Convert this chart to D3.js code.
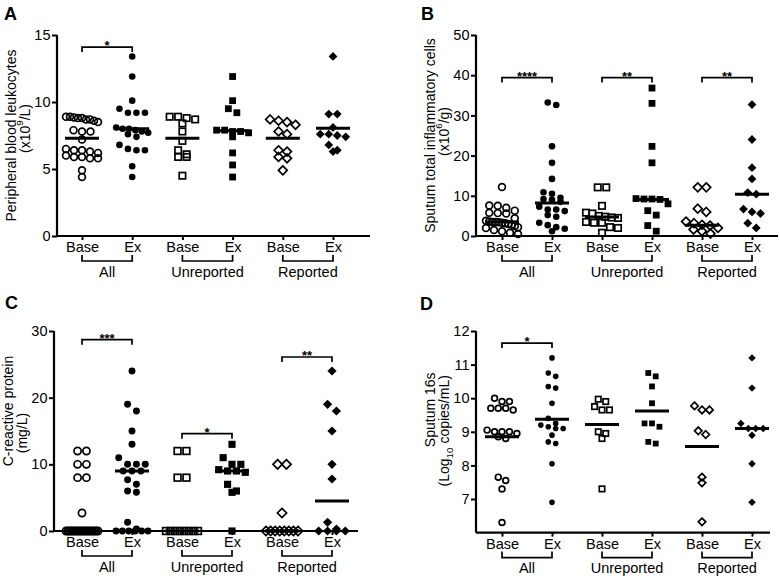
<!DOCTYPE html>
<html><head><meta charset="utf-8">
<script src="https://cdn.jsdelivr.net/npm/d3@7"></script>
<style>body{margin:0;background:#fff}svg{display:block}</style>
</head><body><svg id="c" width="780" height="576"></svg>
<script>
// ---------- data ----------
const categories = ["Base","Ex","Base","Ex","Base","Ex"];
const groups = ["All","Unreported","Reported"];

const leukocytes = [
  [8.9,8.9,8.85,8.8,8.8,8.7,8.7,8.6,8.5,7.9,7.8,7.8,7.2,6.5,6.4,6.4,6.3,6.2,6.0,5.9,5.9,5.8,5.8,4.9,4.4],
  [13.4,11.9,10.1,9.5,9.2,9.2,9.2,8.1,8.0,8.0,7.9,7.8,7.7,7.6,7.4,6.8,6.5,6.4,6.4,5.2,4.4],
  [8.9,8.8,8.7,8.9,8.4,7.8,7.1,6.4,6.1,5.9,5.9,4.5],
  [11.9,10.1,9.5,9.2,7.9,7.9,7.8,7.8,7.7,7.4,6.2,5.3,4.4],
  [8.7,8.6,8.5,8.3,7.8,7.6,6.4,6.3,5.9,5.8,4.9],
  [13.4,9.1,9.1,8.1,7.6,7.6,7.5,7.4,6.8,6.4,6.3]
];
const leukocytesMedians = [7.3,8.0,7.3,7.85,7.3,8.05];
const leukocytesSig = [[0,1,14.1,"*"]];
const leukocytesTicks = [0,5,10,15];

const sputumCells = [
  [12.2,7.6,7.5,7.0,6.3,5.8,5.7,5.6,4.4,3.8,3.6,3.5,3.5,3.4,3.3,3.2,3.0,2.8,2.5,2.2,2.0,1.5,1.2,0.8,0.5],
  [33.2,32.6,22.3,18.2,14.2,10.9,10.5,9.5,9.2,9.0,8.5,7.3,6.6,6.6,6.2,5.2,4.8,3.3,2.7,2.2,1.8,1.2],
  [12.1,12.1,7.5,5.8,5.6,5.0,4.8,4.6,4.5,3.5,3.3,3.3,2.2,2.0,0.8],
  [36.8,33.0,22.3,18.2,9.3,9.2,9.2,9.1,8.0,6.3,5.2,2.6,1.2],
  [12.1,12.1,6.8,6.0,3.6,3.2,2.8,2.6,2.0,1.6,1.2,0.6],
  [32.7,24.0,17.0,14.2,10.8,10.4,6.7,6.0,5.6,3.2,2.0]
];
const sputumCellsMedians = [3.5,8.2,4.7,9.1,2.7,10.4];
const sputumCellsSig = [[0,1,39.4,"****"],[2,3,39.4,"**"],[4,5,39.4,"**"]];
const sputumCellsTicks = [0,10,20,30,40,50];

const crp = [
  [12,12,10,10,8,8,2.7,0,0,0,0,0,0,0,0,0,0,0,0,0,0,0,0,0,0],
  [24,19,18,15,13,11,10,10,10,9,9,9,7.7,7,6,5.8,1.3,0.3,0,0,0,0,0,0],
  [12,12,8,8,0,0,0,0,0,0,0,0],
  [13,11,10,10,9.2,9,9,8.8,7,6,5.8,0],
  [10,10,2.7,0,0,0,0,0,0,0,0],
  [24,19,18,15,10,7.8,1.3,0.3,0,0,0,0]
];
const crpMedians = [0,9,0,9,0,4.5];
const crpSig = [[0,1,28.7,"***"],[2,3,14.6,"*"],[4,5,26.1,"**"]];
const crpTicks = [0,10,20,30];

const sputum16s = [
  [10.0,9.9,9.9,9.7,9.7,9.7,9.65,9.05,9.0,9.0,9.0,8.95,8.85,8.8,7.65,7.55,7.3,6.3],
  [11.2,10.75,10.65,10.35,10.3,9.85,9.4,9.25,9.2,9.15,9.1,9.1,8.9,8.7,8.65,8.05,6.9],
  [9.97,9.9,9.75,9.65,9.65,9.0,8.95,8.8,7.3],
  [10.75,10.65,10.35,9.85,9.25,9.25,9.15,8.7,8.65],
  [9.77,9.65,9.65,9.03,8.92,7.65,7.48,6.32],
  [11.2,10.3,9.25,9.1,9.1,9.1,8.9,8.05,6.9]
];
const sputum16sMedians = [8.85,9.37,9.22,9.62,8.56,9.1];
const sputum16sSig = [[0,1,11.64,"*"]];
const sputum16sTicks = [7,8,9,10,11,12];

// ---------- layout ----------
const FONT = "Arial, 'Liberation Sans', Helvetica, sans-serif";
const svg = d3.select("#c");

const panels = [
  {letter:"A", lx:4, ly:20, data:leukocytes, med:leukocytesMedians, sig:leukocytesSig, ticks:leukocytesTicks,
   domain:[0,15], x0:57, x1:370, yb:236, yt:35, first:82, last:333, ms:1, tdy:[0,-7],
   title:[[{t:"Peripheral blood leukocytes"}],[{t:"(x10"},{t:"9",sup:true},{t:"/L)"}]]},
  {letter:"B", lx:421, ly:20, data:sputumCells, med:sputumCellsMedians, sig:sputumCellsSig, ticks:sputumCellsTicks,
   domain:[0,50], x0:476, x1:778, yb:236, yt:35, first:502, last:752, ms:1, tdy:[0,-4],
   title:[[{t:"Sputum total inflammatory cells"}],[{t:"(x10"},{t:"6",sup:true},{t:"/g)"}]]},
  {letter:"C", lx:5, ly:309, data:crp, med:crpMedians, sig:crpSig, ticks:crpTicks,
   domain:[0,30], x0:54, x1:358, yb:531, yt:331, first:82, last:332, ms:1.05, tdy:[-20,2],
   title:[[{t:"C-reactive protein"}],[{t:"(mg/L)"}]]},
  {letter:"D", lx:420, ly:310, data:sputum16s, med:sputum16sMedians, sig:sputum16sSig, ticks:sputum16sTicks,
   domain:[6,12], x0:476, x1:770, yb:532.6, yt:331, first:502, last:752, ms:0.85, tdy:[-22,-1],
   title:[[{t:"Sputum 16s"}],[{t:"(Log"},{t:"10",sub:true},{t:" copies/mL)"}]]}
];

function swarm(vals, y, r, maxHalf) {
  const pts = vals.map(v => ({v, py: y(v)})).sort((a,b) => a.py - b.py);
  const bins = []; let cur = null;
  for (const p of pts) {
    if (!cur || p.py - cur[0].py > r * 1.9) { cur = [p]; bins.push(cur); } else cur.push(p);
  }
  for (const b of bins) {
    const n = b.length;
    const sp = n > 1 ? Math.min(2 * r + 1.5, 2 * maxHalf / (n - 1)) : 0;
    b.forEach((p, i) => p.dx = (i - (n - 1) / 2) * sp);
  }
  return pts;
}

function drawMarker(g, type, x, y, ms) {
  const sw = 1.7;
  if (type === 0) {
    g.append("circle").attr("cx", x).attr("cy", y).attr("r", 3.4 * ms)
      .attr("fill", "none").attr("stroke", "#000").attr("stroke-width", sw);
  } else if (type === 1) {
    g.append("circle").attr("cx", x).attr("cy", y).attr("r", 3.3 * ms).attr("fill", "#000");
  } else if (type === 2) {
    const s = 6.4 * ms;
    g.append("rect").attr("x", x - s/2).attr("y", y - s/2).attr("width", s).attr("height", s)
      .attr("fill", "none").attr("stroke", "#000").attr("stroke-width", sw);
  } else if (type === 3) {
    const s = 6.8 * ms;
    g.append("rect").attr("x", x - s/2).attr("y", y - s/2).attr("width", s).attr("height", s).attr("fill", "#000");
  } else if (type === 4) {
    const d = 4.4 * ms;
    g.append("path").attr("d", `M${x},${y-d}L${x+d},${y}L${x},${y+d}L${x-d},${y}Z`)
      .attr("fill", "none").attr("stroke", "#000").attr("stroke-width", sw);
  } else {
    const d = 4.4 * ms;
    g.append("path").attr("d", `M${x},${y-d}L${x+d},${y}L${x},${y+d}L${x-d},${y}Z`).attr("fill", "#000");
  }
}

function richText(sel, segs, size) {
  segs.forEach(s => {
    const t = sel.append("tspan").text(s.t);
    if (s.sup) t.attr("font-size", size * 0.7).attr("baseline-shift", "super");
    if (s.sub) t.attr("font-size", size * 0.7).attr("baseline-shift", "sub");
  });
}

panels.forEach(p => {
  const g = svg.append("g");
  const y = d3.scaleLinear().domain(p.domain).range([p.yb, p.yt]);
  const x = d3.scalePoint().domain(d3.range(categories.length)).range([p.first, p.last]);

  // panel letter
  g.append("text").attr("x", p.lx).attr("y", p.ly).attr("font-family", FONT)
    .attr("font-weight", "bold").attr("font-size", 18).text(p.letter);

  // y axis
  const ya = g.append("g").attr("transform", `translate(${p.x0},0)`)
    .call(d3.axisLeft(y).tickValues(p.ticks).tickFormat(d3.format("d")).tickSize(5).tickPadding(1.5).tickSizeOuter(0));
  ya.select(".domain").attr("stroke-width", 2.2).attr("d", `M0,${p.yt}V${p.yb}`);
  ya.selectAll(".tick line").attr("stroke-width", 2);
  ya.selectAll(".tick text").attr("font-family", FONT).attr("font-size", 14.5).attr("fill", "#000");

  // x axis
  const xa = g.append("g").attr("transform", `translate(0,${p.yb})`)
    .call(d3.axisBottom(x).tickSize(4).tickPadding(2).tickFormat(i => categories[i]).tickSizeOuter(0));
  xa.select(".domain").attr("stroke-width", 2.2).attr("d", `M${p.x0},0H${p.x1}`);
  xa.selectAll(".tick line").attr("stroke-width", 2);
  xa.selectAll(".tick text").attr("font-family", FONT).attr("font-size", 14.5).attr("fill", "#000");

  // group brackets
  groups.forEach((name, gi) => {
    const xa0 = x(gi * 2), xb = x(gi * 2 + 1);
    g.append("path").attr("d", `M${xa0},${p.yb + 19}V${p.yb + 25}H${xb}V${p.yb + 19}`)
      .attr("fill", "none").attr("stroke", "#000").attr("stroke-width", 1.7);
    g.append("text").attr("x", (xa0 + xb) / 2).attr("y", p.yb + 40.5).attr("text-anchor", "middle")
      .attr("font-family", FONT).attr("font-size", 14.5).text(name);
  });

  // y title
  const cy = (p.yt + p.yb) / 2;
  p.title.forEach((segs, li) => {
    const tx = p.x0 - 46 + li * 14;
    const t = g.append("text").attr("transform", `translate(${tx},${cy + p.tdy[li]}) rotate(-90)`)
      .attr("text-anchor", "middle").attr("dominant-baseline", "central")
      .attr("font-family", FONT).attr("font-size", 14);
    richText(t, segs, 14);
  });

  // points
  p.data.forEach((vals, ci) => {
    const pts = swarm(vals, y, 3.5 * p.ms, 16);
    const mg = g.append("g");
    pts.forEach(pt => drawMarker(mg, ci, x(ci) + pt.dx, pt.py, p.ms));
    // median line
    g.append("line").attr("x1", x(ci) - 17).attr("x2", x(ci) + 17)
      .attr("y1", y(p.med[ci])).attr("y2", y(p.med[ci]))
      .attr("stroke", "#000").attr("stroke-width", 3);
  });

  // significance brackets
  p.sig.forEach(([a, b, v, lab]) => {
    const yy = y(v);
    g.append("path").attr("d", `M${x(a)},${yy + 5}V${yy}H${x(b)}V${yy + 5}`)
      .attr("fill", "none").attr("stroke", "#000").attr("stroke-width", 1.7);
    g.append("text").attr("x", (x(a) + x(b)) / 2).attr("y", yy + 3).attr("text-anchor", "middle")
      .attr("font-family", FONT).attr("font-size", 13).attr("font-weight", "bold").text(lab);
  });
});
</script>
</body></html>
